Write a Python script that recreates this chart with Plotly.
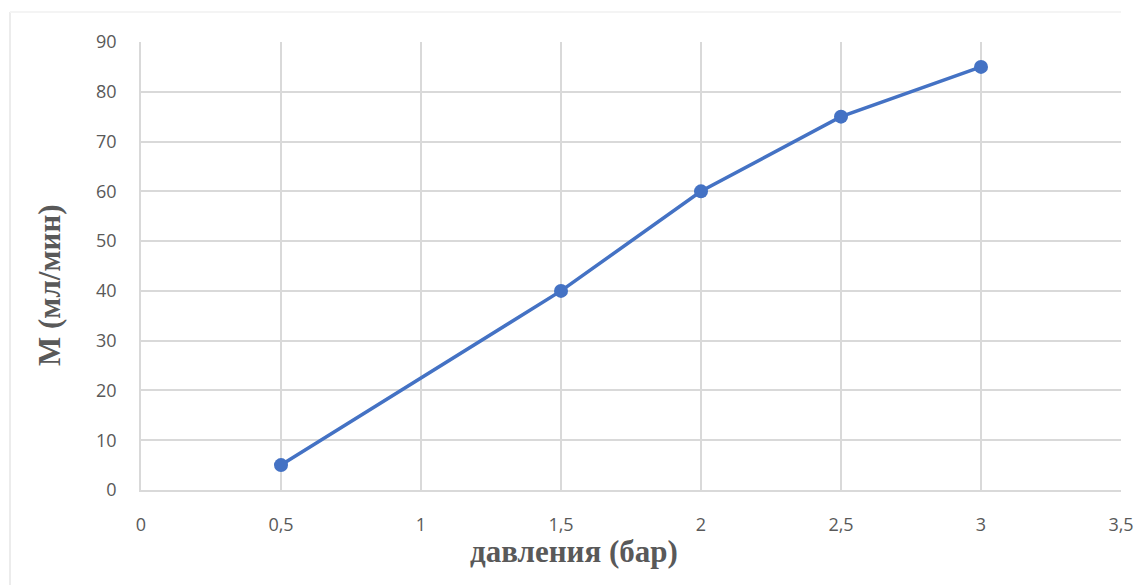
import plotly.graph_objects as go

pressure = [0.5, 1.5, 2, 2.5, 3]
flow = [5, 40, 60, 75, 85]
x_ticks = [0, 0.5, 1, 1.5, 2, 2.5, 3, 3.5]
x_tick_labels = ["0", "0,5", "1", "1,5", "2", "2,5", "3", "3,5"]
y_ticks = [0, 10, 20, 30, 40, 50, 60, 70, 80, 90]

W, H = 1147, 585
ML, MR, MT, MB = 141, 26, 42, 95

fig = go.Figure()
fig.add_trace(go.Scatter(
    x=pressure, y=flow, mode="lines+markers",
    line=dict(color="#4472C4", width=3.5),
    marker=dict(color="#4472C4", size=14),
    showlegend=False,
))

grid = "#d9d9d9"
fig.update_layout(
    width=W, height=H,
    margin=dict(l=ML, r=MR, t=MT, b=MB),
    paper_bgcolor="white", plot_bgcolor="white",
    font=dict(family="Open Sans", size=18, color="#595959"),
    xaxis=dict(range=[0, 3.5], tickvals=x_ticks, ticktext=x_tick_labels,
               showgrid=True, gridcolor=grid, gridwidth=1.5,
               zeroline=False, showline=True, linecolor=grid, linewidth=1.5,
               ticks="", ticklabelstandoff=18, fixedrange=True),
    yaxis=dict(range=[0, 90], tickvals=y_ticks,
               showgrid=True, gridcolor=grid, gridwidth=1.5,
               zeroline=False, showline=True, linecolor=grid, linewidth=1.5,
               ticks="", ticklabelstandoff=19, fixedrange=True),
    annotations=[
        dict(text="<b>давления (бар)</b>", xref="paper", yref="paper",
             x=(574 - ML) / (W - ML - MR), y=-(551 - (H - MB)) / (H - MT - MB),
             xanchor="center", yanchor="middle", showarrow=False,
             font=dict(family="Liberation Serif", size=31, color="#595959")),
        dict(text="<b>M (мл/мин)</b>", xref="paper", yref="paper",
             x=-(ML - 49) / (W - ML - MR), y=(H - MB - 285) / (H - MT - MB),
             xanchor="center", yanchor="middle", showarrow=False, textangle=-90,
             font=dict(family="Liberation Serif", size=31, color="#595959")),
    ],
    shapes=[
        dict(type="line", xref="paper", yref="paper",
             x0=-(ML - 10) / (W - ML - MR), x1=-(ML - 10) / (W - ML - MR),
             y0=(H - MB - 12) / (H - MT - MB), y1=-(MB) / (H - MT - MB),
             line=dict(color="#ececec", width=2)),
        dict(type="line", xref="paper", yref="paper",
             x0=-(ML - 10) / (W - ML - MR), x1=1.0,
             y0=(H - MB - 12) / (H - MT - MB), y1=(H - MB - 12) / (H - MT - MB),
             line=dict(color="#f4f4f4", width=2)),
    ],
)

fig.write_html("out.html")
